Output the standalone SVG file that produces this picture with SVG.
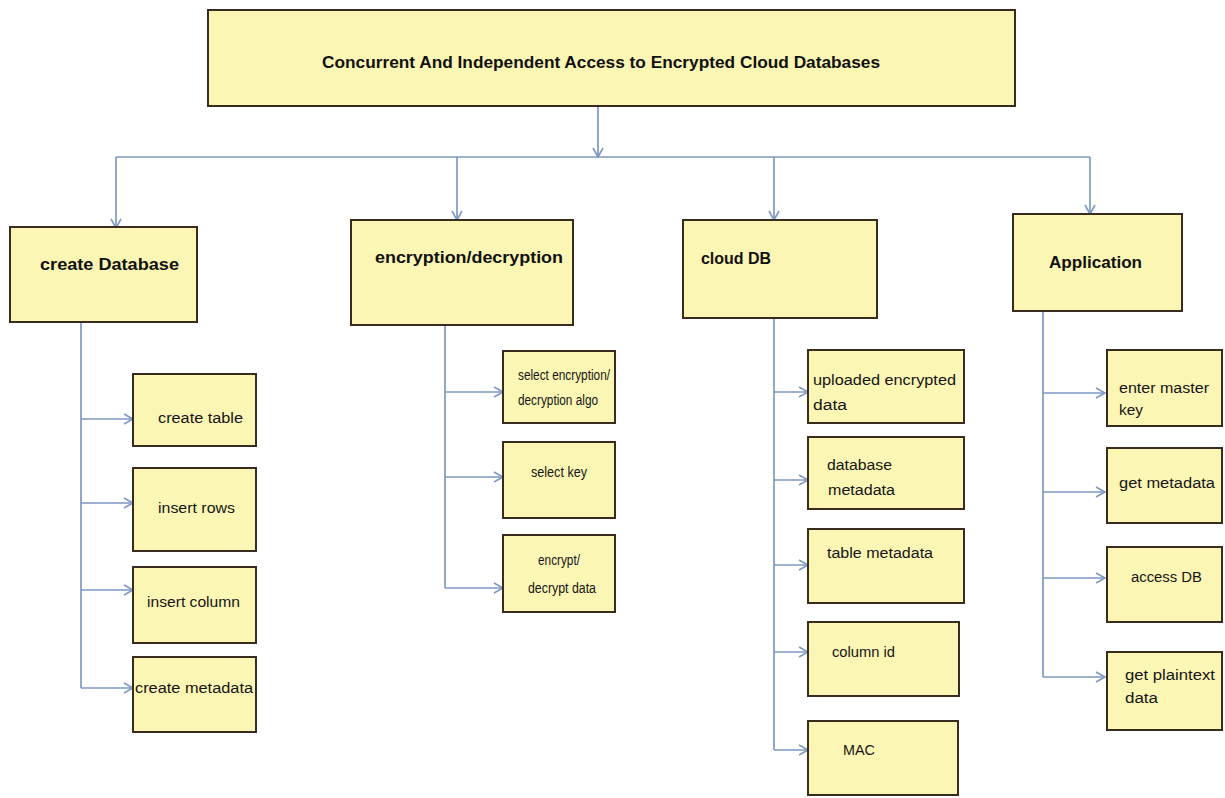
<svg xmlns="http://www.w3.org/2000/svg" width="1225" height="798" viewBox="0 0 1225 798">
<style>
.bg{fill:#ffffff}
.box{fill:#fcf6b4;stroke:#3b2a1e;stroke-width:2}
.conn{stroke:#7d99c4;stroke-width:1.7;fill:none}
.h{font-family:"Liberation Sans",Arial,sans-serif;font-size:16px;font-weight:bold;fill:#111}
.t{font-family:"Liberation Sans",Arial,sans-serif;font-size:14px;fill:#151515}
</style>
<defs>
<marker id="arr" markerWidth="12" markerHeight="12" refX="10" refY="6" orient="auto" markerUnits="userSpaceOnUse">
<path d="M1,1 L10,6 L1,11" fill="none" stroke="#7d99c4" stroke-width="1.6"/>
</marker>
</defs>
<rect class="bg" x="0" y="0" width="1225" height="798"/>

<g id="connectors">
<path class="conn" d="M598,106 V157" marker-end="url(#arr)"/>
<path class="conn" d="M116,157 H1090"/>
<path class="conn" d="M116,157 V228" marker-end="url(#arr)"/>
<path class="conn" d="M457,157 V220" marker-end="url(#arr)"/>
<path class="conn" d="M774,157 V220" marker-end="url(#arr)"/>
<path class="conn" d="M1090,157 V214" marker-end="url(#arr)"/>

<path class="conn" d="M81,322 V688"/>
<path class="conn" d="M81,419 H133" marker-end="url(#arr)"/>
<path class="conn" d="M81,503 H133" marker-end="url(#arr)"/>
<path class="conn" d="M81,590 H133" marker-end="url(#arr)"/>
<path class="conn" d="M81,688 H133" marker-end="url(#arr)"/>

<path class="conn" d="M445,325 V588"/>
<path class="conn" d="M445,392 H503" marker-end="url(#arr)"/>
<path class="conn" d="M445,477 H503" marker-end="url(#arr)"/>
<path class="conn" d="M445,588 H503" marker-end="url(#arr)"/>

<path class="conn" d="M774,318 V750"/>
<path class="conn" d="M774,392 H808" marker-end="url(#arr)"/>
<path class="conn" d="M774,480 H808" marker-end="url(#arr)"/>
<path class="conn" d="M774,565 H808" marker-end="url(#arr)"/>
<path class="conn" d="M774,652 H808" marker-end="url(#arr)"/>
<path class="conn" d="M774,750 H808" marker-end="url(#arr)"/>

<path class="conn" d="M1043,311 V677"/>
<path class="conn" d="M1043,393 H1105" marker-end="url(#arr)"/>
<path class="conn" d="M1043,492 H1105" marker-end="url(#arr)"/>
<path class="conn" d="M1043,578 H1105" marker-end="url(#arr)"/>
<path class="conn" d="M1043,677 H1105" marker-end="url(#arr)"/>
</g>

<g id="title">
<rect class="box" x="208" y="10" width="807" height="96"/>
<text class="h" x="322" y="68" textLength="558" lengthAdjust="spacingAndGlyphs">Concurrent And Independent Access to Encrypted Cloud Databases</text>
</g>

<g id="create-database">
<rect class="box" x="10" y="227" width="187" height="95"/>
<text class="h" x="40" y="270" textLength="139" lengthAdjust="spacingAndGlyphs">create Database</text>
</g>
<g id="encryption-decryption">
<rect class="box" x="351" y="220" width="222" height="105"/>
<text class="h" x="375" y="263" textLength="188" lengthAdjust="spacingAndGlyphs">encryption/decryption</text>
</g>
<g id="cloud-db">
<rect class="box" x="683" y="220" width="194" height="98"/>
<text class="h" x="701" y="264" textLength="70" lengthAdjust="spacingAndGlyphs">cloud DB</text>
</g>
<g id="application">
<rect class="box" x="1013" y="214" width="169" height="97"/>
<text class="h" x="1049" y="268" textLength="93" lengthAdjust="spacingAndGlyphs">Application</text>
</g>

<g id="create-table">
<rect class="box" x="133" y="374" width="123" height="72"/>
<text class="t" x="158" y="423" textLength="85" lengthAdjust="spacingAndGlyphs">create table</text>
</g>
<g id="insert-rows">
<rect class="box" x="133" y="468" width="123" height="83"/>
<text class="t" x="158" y="513" textLength="77" lengthAdjust="spacingAndGlyphs">insert rows</text>
</g>
<g id="insert-column">
<rect class="box" x="133" y="567" width="123" height="76"/>
<text class="t" x="147" y="607" textLength="93" lengthAdjust="spacingAndGlyphs">insert column</text>
</g>
<g id="create-metadata">
<rect class="box" x="133" y="657" width="123" height="75"/>
<text class="t" x="135" y="693" textLength="118" lengthAdjust="spacingAndGlyphs">create metadata</text>
</g>

<g id="select-algo">
<rect class="box" x="503" y="351" width="112" height="72"/>
<text class="t" x="518" y="380" textLength="92" lengthAdjust="spacingAndGlyphs">select encryption/</text>
<text class="t" x="518" y="405" textLength="80" lengthAdjust="spacingAndGlyphs">decryption algo</text>
</g>
<g id="select-key">
<rect class="box" x="503" y="442" width="112" height="76"/>
<text class="t" x="531" y="477" textLength="56" lengthAdjust="spacingAndGlyphs">select key</text>
</g>
<g id="encrypt-decrypt">
<rect class="box" x="503" y="535" width="112" height="77"/>
<text class="t" x="538" y="565" textLength="42" lengthAdjust="spacingAndGlyphs">encrypt/</text>
<text class="t" x="528" y="593" textLength="68" lengthAdjust="spacingAndGlyphs">decrypt data</text>
</g>

<g id="uploaded">
<rect class="box" x="808" y="350" width="156" height="73"/>
<text class="t" x="813" y="385" textLength="143" lengthAdjust="spacingAndGlyphs">uploaded encrypted</text>
<text class="t" x="813" y="410" textLength="34" lengthAdjust="spacingAndGlyphs">data</text>
</g>
<g id="database-metadata">
<rect class="box" x="808" y="437" width="156" height="72"/>
<text class="t" x="827" y="470" textLength="65" lengthAdjust="spacingAndGlyphs">database</text>
<text class="t" x="828" y="495" textLength="67" lengthAdjust="spacingAndGlyphs">metadata</text>
</g>
<g id="table-metadata">
<rect class="box" x="808" y="529" width="156" height="74"/>
<text class="t" x="827" y="558" textLength="106" lengthAdjust="spacingAndGlyphs">table metadata</text>
</g>
<g id="column-id">
<rect class="box" x="808" y="622" width="151" height="74"/>
<text class="t" x="832" y="657" textLength="63" lengthAdjust="spacingAndGlyphs">column id</text>
</g>
<g id="mac">
<rect class="box" x="808" y="721" width="150" height="74"/>
<text class="t" x="843" y="755" textLength="32" lengthAdjust="spacingAndGlyphs">MAC</text>
</g>

<g id="enter-master-key">
<rect class="box" x="1107" y="350" width="115" height="76"/>
<text class="t" x="1119" y="393" textLength="90" lengthAdjust="spacingAndGlyphs">enter master</text>
<text class="t" x="1119" y="415" textLength="24" lengthAdjust="spacingAndGlyphs">key</text>
</g>
<g id="get-metadata">
<rect class="box" x="1107" y="448" width="115" height="75"/>
<text class="t" x="1119" y="488" textLength="96" lengthAdjust="spacingAndGlyphs">get metadata</text>
</g>
<g id="access-db">
<rect class="box" x="1107" y="547" width="115" height="75"/>
<text class="t" x="1131" y="582" textLength="71" lengthAdjust="spacingAndGlyphs">access DB</text>
</g>
<g id="get-plaintext">
<rect class="box" x="1107" y="652" width="115" height="78"/>
<text class="t" x="1125" y="680" textLength="90" lengthAdjust="spacingAndGlyphs">get plaintext</text>
<text class="t" x="1125" y="703" textLength="33" lengthAdjust="spacingAndGlyphs">data</text>
</g>
</svg>
